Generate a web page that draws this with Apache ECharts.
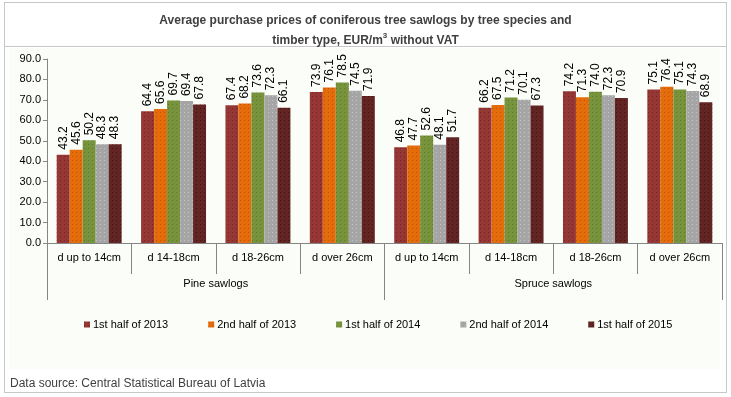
<!DOCTYPE html>
<html>
<head>
<meta charset="utf-8">
<script src="https://cdn.jsdelivr.net/npm/echarts@6/dist/echarts.min.js"></script>
<style>
  html, body { margin: 0; padding: 0; background: #fff; }
  #wrap { position: relative; width: 731px; height: 397px; }
  .frame { position: absolute; left: 4px; top: 2px; width: 721px; height: 389px; border: 1px solid #c8c8c8; }
  .sep { position: absolute; left: 5px; top: 46px; width: 721px; height: 1px; background: #c8c8c8; }
  .plotbg { position: absolute; left: 9px; top: 48px; width: 711px; height: 321px; background: #fbfdf8; }
  #chart { position: absolute; left: 0; top: 0; width: 731px; height: 397px; }
</style>
</head>
<body>
<div id="wrap">
  <div class="frame"></div>
  <div class="sep"></div>
  <div class="plotbg"></div>
  <div id="chart"></div>
</div>
<script>
// 数据
const categories = [
  "d up to 14cm", "d 14-18cm", "d 18-26cm", "d over 26cm",
  "d up to 14cm", "d 14-18cm", "d 18-26cm", "d over 26cm"
];
const groups = ["Pine sawlogs", "Spruce sawlogs"];
const periods = ["1st half of 2013", "2nd half of 2013", "1st half of 2014", "2nd half of 2014", "1st half of 2015"];
const h1_2013 = [43.2, 64.4, 67.4, 73.9, 46.8, 66.2, 74.2, 75.1];
const h2_2013 = [45.6, 65.6, 68.2, 76.1, 47.7, 67.5, 71.3, 76.4];
const h1_2014 = [50.2, 69.7, 73.6, 78.5, 52.6, 71.2, 74.0, 75.1];
const h2_2014 = [48.3, 69.4, 72.3, 74.5, 48.1, 70.1, 72.3, 74.3];
const h1_2015 = [48.3, 67.8, 66.1, 71.9, 51.7, 67.3, 70.9, 68.9];
const seriesValues = [h1_2013, h2_2013, h1_2014, h2_2014, h1_2015];

const colors = ["#953735", "#e46c0a", "#77933c", "#a5a5a5", "#632523"];
const dotColors = ["rgba(60,0,0,0.35)", "rgba(120,40,0,0.35)", "rgba(40,60,10,0.3)", "rgba(255,255,255,0.35)", "rgba(20,0,0,0.45)"];
const font = "'Liberation Sans', Arial, sans-serif";

const myChart = echarts.init(document.getElementById("chart"));

const option = {
  animation: false,
  textStyle: { fontFamily: font },
  title: [
    {
      text: "Average purchase prices of coniferous tree sawlogs by tree species and",
      left: "center",
      top: 10,
      textStyle: { fontSize: 12, fontWeight: "bold", color: "#404040", fontFamily: font }
    },
    {
      text: "{b|timber type,}{n| EUR/m}{s|3}{n| without VAT}",
      left: "center",
      top: 27,
      textStyle: {
        rich: {
          b: { fontSize: 12, fontWeight: "bold", color: "#404040", lineHeight: 18, fontFamily: font },
          n: { fontSize: 12, color: "#404040", lineHeight: 18, fontFamily: font },
          s: { fontSize: 8, color: "#404040", lineHeight: 18, verticalAlign: "top", padding: [0, 0, 8, 0], fontFamily: font }
        }
      }
    },
    {
      text: "Data source: Central Statistical Bureau of Latvia",
      left: 5,
      top: 373,
      textStyle: { fontSize: 12, fontWeight: "normal", color: "#404040", fontFamily: font }
    }
  ],
  color: colors,
  legend: {
    top: 314,
    left: 79,
    itemWidth: 6,
    itemHeight: 6,
    itemGap: 40,
    icon: "rect",
    data: periods,
    textStyle: { fontSize: 11, color: "#000", fontFamily: font, padding: [0, 0, 0, -2] }
  },
  grid: { left: 47, right: 9, top: 59, bottom: 154, containLabel: false },
  xAxis: [
    {
      type: "category",
      data: categories,
      position: "bottom",
      axisLine: { show: true, lineStyle: { color: "#868686", width: 1 } },
      axisTick: { show: true, length: 31, lineStyle: { color: "#868686" } },
      axisLabel: { interval: 0, margin: 9, fontSize: 11, color: "#000", fontFamily: font }
    },
    {
      type: "category",
      data: groups,
      position: "bottom",
      axisLine: { show: false },
      axisTick: { show: true, length: 57, lineStyle: { color: "#868686" } },
      axisLabel: { interval: 0, margin: 35, fontSize: 11, color: "#000", fontFamily: font }
    }
  ],
  yAxis: {
    type: "value",
    min: 0,
    max: 90,
    interval: 10,
    axisLine: { show: true, lineStyle: { color: "#868686" } },
    axisTick: { show: true, inside: false, length: 4, lineStyle: { color: "#868686" } },
    splitLine: { show: false },
    axisLabel: {
      margin: 6,
      fontSize: 11,
      color: "#000",
      fontFamily: font,
      formatter: (v) => v.toFixed(1)
    }
  },
  series: periods.map((name, i) => ({
    name: name,
    type: "bar",
    xAxisIndex: 0,
    data: seriesValues[i],
    barGap: "0%",
    barCategoryGap: "23%",
    itemStyle: {
      color: colors[i],
      decal: {
        symbol: "rect",
        symbolSize: 1,
        color: dotColors[i],
        dashArrayX: [1, 3],
        dashArrayY: [1, 3],
        rotation: 0
      }
    },
    label: {
      show: true,
      position: "top",
      rotate: 90,
      align: "left",
      verticalAlign: "middle",
      distance: 5,
      fontSize: 12,
      color: "#000",
      fontFamily: font,
      formatter: (p) => p.value.toFixed(1)
    }
  }))
};

myChart.setOption(option);
</script>
</body>
</html>
